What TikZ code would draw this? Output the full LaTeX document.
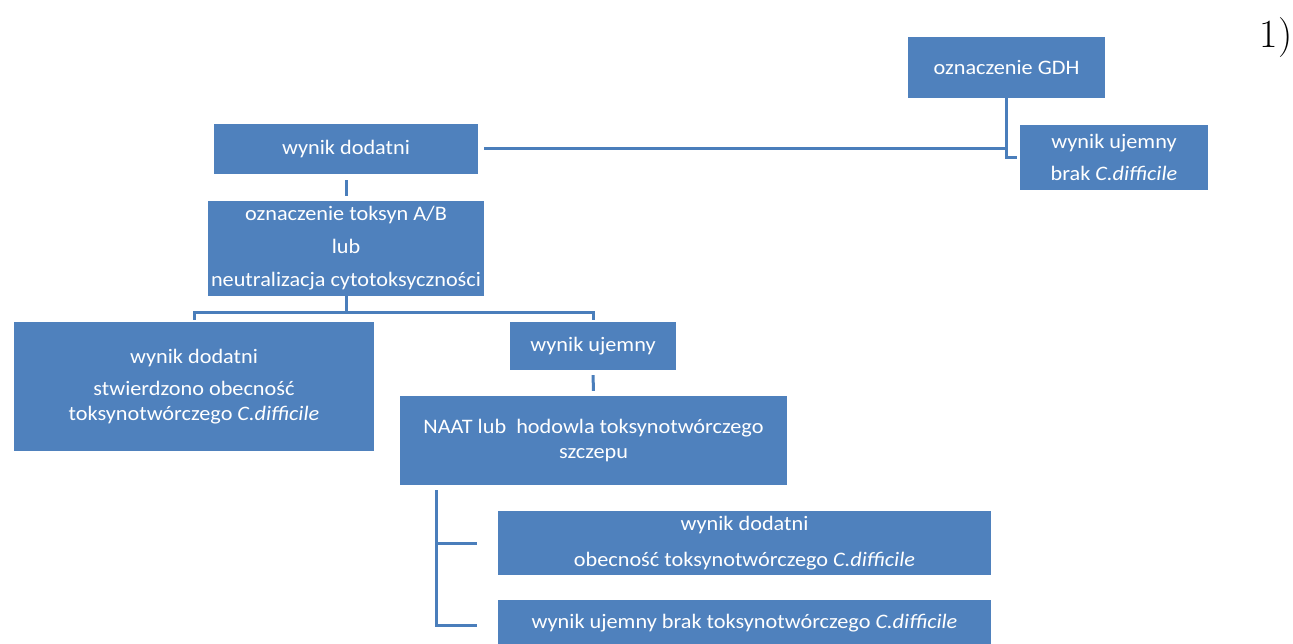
\documentclass[tikz,border=0pt]{standalone}
\usepackage{fontspec}
\setmainfont{Carlito}[FakeStretch=1.08]
\newfontfamily\lmr{Latin Modern Roman}
\usetikzlibrary{calc}
\definecolor{boxblue}{HTML}{4F81BD}
\definecolor{lineblue}{HTML}{4A7EBB}
\begin{document}
\begin{tikzpicture}[x=1pt,y=-1pt,
 box/.style={fill=boxblue, text=white, inner sep=0pt, align=center, font=\fontsize{20.6}{24.5}\selectfont},
 conn/.style={draw=lineblue, line width=3pt}]
\useasboundingbox (0,0) rectangle (1293,644);
\clip (0,0) rectangle (1293,644);
\fill[white] (0,0) rectangle (1293,644);
\node[box, minimum width=197, minimum height=61] (gdh) at (1006.5,67.5) {oznaczenie GDH};
\node[box, minimum width=188, minimum height=65] (neg1) at (1114,157.5) {wynik ujemny\\[8pt]brak \textit{C.difficile}};
\node[box, minimum width=264, minimum height=50] (pos1) at (346,149) {wynik dodatni};
\node[box, minimum width=276, minimum height=95] (tox) at (346,248.5) {oznaczenie toksyn A/B\\[8.5pt]lub\\[8.5pt]neutralizacja cytotoksyczności};
\node[box, minimum width=360, minimum height=129] (pos2) at (194,386.5) {wynik dodatni\\[8pt]stwierdzono obecność\\toksynotwórczego \textit{C.difficile}};
\node[box, minimum width=166, minimum height=48] (neg2) at (593,346) {wynik ujemny};
\node[box, minimum width=387, minimum height=89] (naat) at (593.5,440.5) {NAAT lub~ hodowla toksynotwórczego\\szczepu};
\node[box, minimum width=493, minimum height=64] (pos3) at (744.5,543) {wynik dodatni\\[11pt]obecność toksynotwórczego \textit{C.difficile}};
\node[box, minimum width=493, minimum height=46] (neg3) at (744.5,623) {wynik ujemny brak toksynotwórczego \textit{C.difficile}};
\node[font=\lmr\fontsize{40}{40}\selectfont, inner sep=0pt, anchor=base] (num) at (1276,48) {1)};
% connectors
\draw[conn, shorten >=3pt] (gdh.south) |- (neg1.west);
\draw[conn, shorten <=6pt] (pos1.east) -- (gdh.south |- pos1.east);
\draw[conn, shorten <=6pt, shorten >=5pt] (pos1.south) -- (tox.north);
\coordinate (tb) at ($(tox.south)+(0,16)$);
\draw[conn, shorten >=2pt] (tox.south) -- (tb) -| (pos2.north);
\draw[conn, shorten >=2pt] (tb) -| (neg2.north);
\draw[conn, shorten <=5pt, shorten >=5pt] (neg2.south) -- (naat.north);
\coordinate (nb) at ($(naat.south west)+(37,5)$);
\draw[conn, shorten >=21pt] (nb) |- (pos3.west);
\draw[conn, shorten >=21pt] (nb) |- ($(neg3.west)+(0,2)$);
\end{tikzpicture}
\end{document}
